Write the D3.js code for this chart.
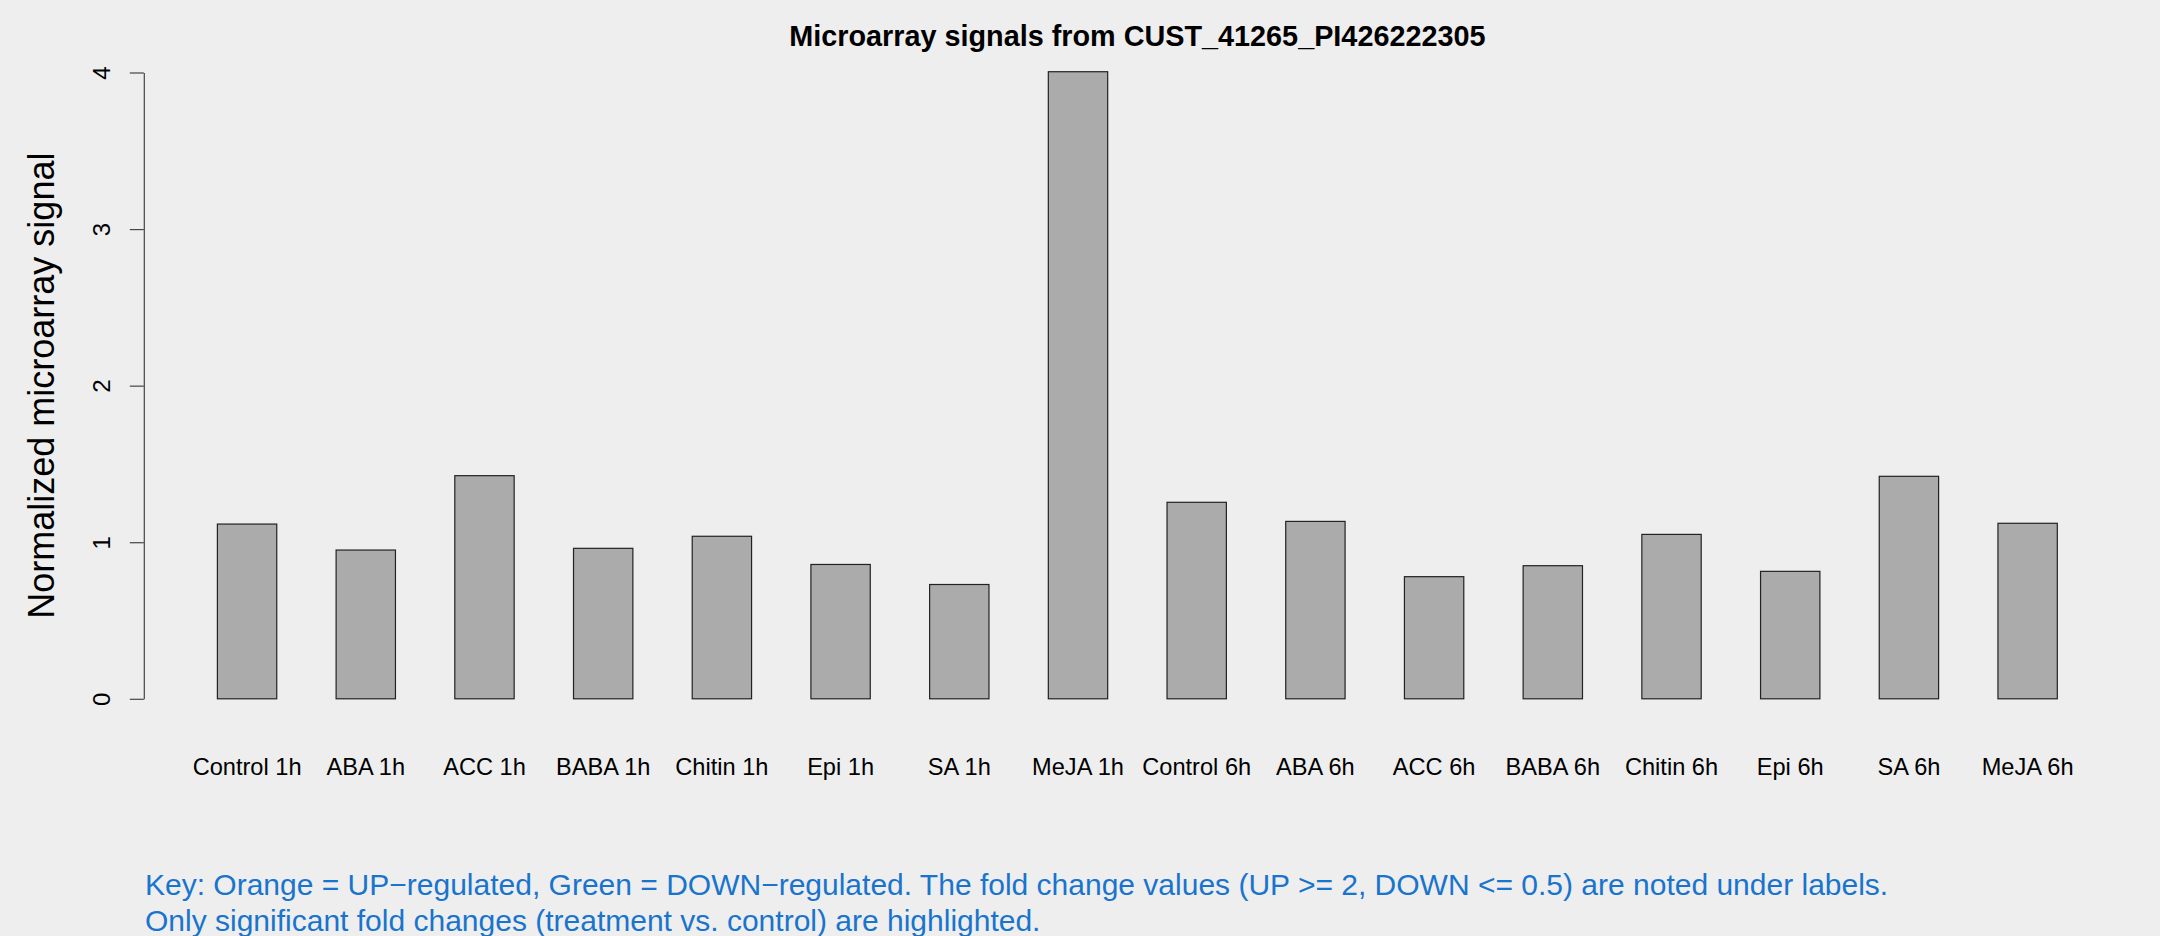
<!DOCTYPE html>
<html>
<head>
<meta charset="utf-8">
<script src="https://cdn.jsdelivr.net/npm/d3@7"></script>
<style>
html, body { margin: 0; padding: 0; background: #EEEEEE; }
svg { display: block; font-family: "Liberation Sans", Arial, Helvetica, sans-serif; }
</style>
</head>
<body>
<svg id="chart" width="2160" height="936"></svg>
<script>
const categories = ["Control 1h","ABA 1h","ACC 1h","BABA 1h","Chitin 1h","Epi 1h","SA 1h","MeJA 1h",
                    "Control 6h","ABA 6h","ACC 6h","BABA 6h","Chitin 6h","Epi 6h","SA 6h","MeJA 6h"];
const values = [1.116, 0.950, 1.425, 0.961, 1.038, 0.858, 0.730, 4.005,
                1.255, 1.133, 0.780, 0.850, 1.050, 0.814, 1.421, 1.121];
const yTicks = [0, 1, 2, 3, 4];
const titleText = "Microarray signals from CUST_41265_PI426222305";
const yLabel = "Normalized microarray signal";
const keyLines = [
  "Key: Orange = UP\u2212regulated, Green = DOWN\u2212regulated. The fold change values (UP >= 2, DOWN <= 0.5) are noted under labels.",
  "Only significant fold changes (treatment vs. control) are highlighted."
];

const svg = d3.select("#chart");
svg.append("rect").attr("width", 2160).attr("height", 936).attr("fill", "#EEEEEE");

const plotL = 143.8, plotR = 2130.9;
const n = categories.length;
// R barplot style: width 1, space 1 -> bars at [1+2i, 2+2i], 4% expansion
const xmin = 1, xmax = 2 * n;
const pad = 0.04 * (xmax - xmin);
const x = d3.scaleLinear().domain([xmin - pad, xmax + pad]).range([plotL, plotR]);
const y = d3.scaleLinear().domain([0, 4]).range([698.8, 72.5]);

// bars
svg.append("g").selectAll("rect").data(values).join("rect")
  .attr("x", (d, i) => x(1 + 2 * i))
  .attr("width", (d, i) => x(2 + 2 * i) - x(1 + 2 * i))
  .attr("y", d => y(d))
  .attr("height", d => y(0) - y(d))
  .attr("fill", "#ABABAB")
  .attr("stroke", "#222")
  .attr("stroke-width", 1.2);

// y axis
const yAxis = svg.append("g")
  .attr("transform", `translate(${plotL},0)`)
  .call(d3.axisLeft(y).tickValues(yTicks).tickSize(14).tickSizeOuter(0).tickFormat(d3.format("d")));
yAxis.select(".domain").attr("stroke", "#444").attr("stroke-width", 1.2);
yAxis.selectAll(".tick line").attr("stroke", "#444").attr("stroke-width", 1.2);
yAxis.selectAll(".tick text")
  .attr("transform", "rotate(-90)")
  .attr("x", 0).attr("y", -33.8).attr("dy", null)
  .attr("text-anchor", "middle")
  .attr("font-size", 24)
  .attr("font-family", "Liberation Sans, Arial, sans-serif")
  .attr("fill", "#000");

// x labels
svg.append("g").selectAll("text").data(categories).join("text")
  .attr("x", (d, i) => x(1.5 + 2 * i))
  .attr("y", 775)
  .attr("text-anchor", "middle")
  .attr("font-size", 23.6)
  .attr("fill", "#000")
  .text(d => d);

// title
svg.append("text")
  .attr("x", (plotL + plotR) / 2)
  .attr("y", 46)
  .attr("text-anchor", "middle")
  .attr("font-size", 28.8)
  .attr("font-weight", "bold")
  .attr("fill", "#000")
  .text(titleText);

// y label
svg.append("text")
  .attr("transform", `translate(54,${(y(0) + y(4)) / 2}) rotate(-90)`)
  .attr("text-anchor", "middle")
  .attr("font-size", 36)
  .attr("fill", "#000")
  .text(yLabel);

// key
svg.append("g").selectAll("text").data(keyLines).join("text")
  .attr("x", 145)
  .attr("y", (d, i) => 894.5 + 36 * i)
  .attr("font-size", 30)
  .attr("fill", "#1874CD")
  .text(d => d);
</script>
</body>
</html>
